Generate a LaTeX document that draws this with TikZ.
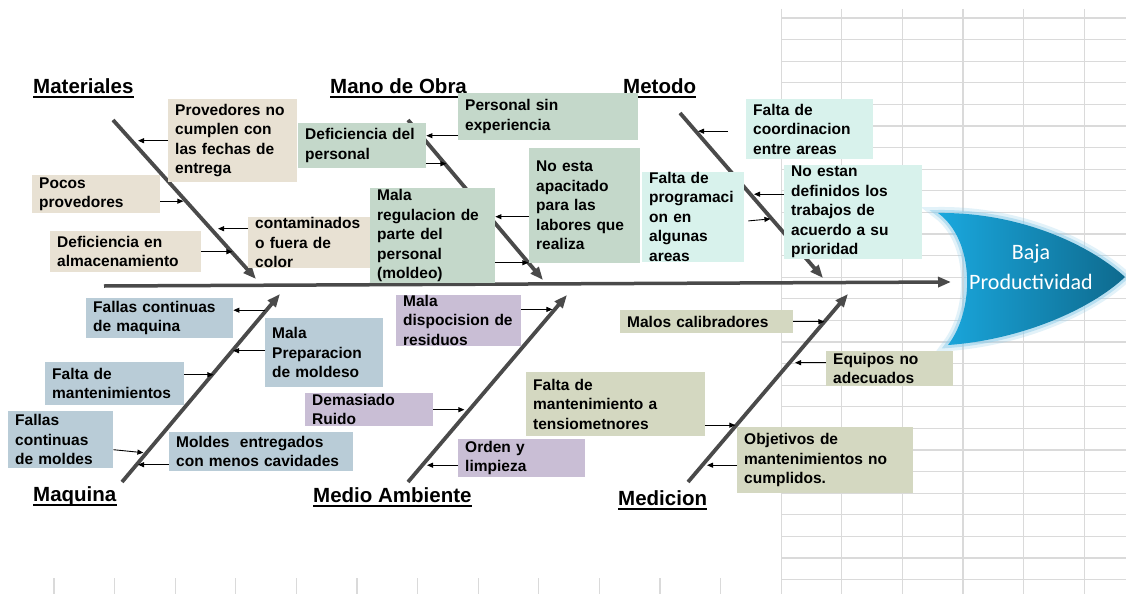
\documentclass[tikz,border=0pt]{standalone}
\usepackage{fontspec}
\setmainfont{Liberation Sans}
\newfontfamily\headfont{Carlito}
\usetikzlibrary{arrows.meta}
\definecolor{matfill}{HTML}{E8E1D3}
\definecolor{manofill}{HTML}{C4D8CA}
\definecolor{metfill}{HTML}{D8F2EC}
\definecolor{maqfill}{HTML}{B9CCD7}
\definecolor{ambfill}{HTML}{C9BED5}
\definecolor{mdcfill}{HTML}{D4D8C1}
\definecolor{bonegray}{HTML}{4A4A4A}
\definecolor{gridgray}{HTML}{DADADA}
\definecolor{headlight}{HTML}{1AA8DE}
\definecolor{headdark}{HTML}{0E6A8E}
\definecolor{headglow}{HTML}{8FCDEB}
\newcommand\causefont{\fontsize{15.5}{19.5}\selectfont\bfseries}
\newcommand\titlefont{\fontsize{20.5}{24}\selectfont\bfseries}
\tikzset{
  cause node/.style={fill=#1, anchor=north west, align=left, inner xsep=7pt, inner ysep=0pt, font=\causefont},
  title node/.style={anchor=base west, inner sep=0pt, text depth=4pt, font=\titlefont,
    append after command={(\tikzlastnode.south west) edge[-, draw=black, line width=2pt] (\tikzlastnode.south east)}},
  bone/.style={draw=bonegray, line width=3.8pt, -{Triangle[length=13pt,width=10pt]}},
  spine/.style={draw=bonegray, line width=3.5pt, -{Triangle[length=13pt,width=10pt]}},
  cause/.style={draw=black, line width=0.9pt, -{Triangle[length=6pt,width=5pt]}},
  gridline/.style={draw=gridgray, line width=1.1pt},
}
\begin{document}
\begin{tikzpicture}[x=1pt, y=-1pt]
        \useasboundingbox (0,0) rectangle (1126,594);
        \fill[white] (0,0) rectangle (1126,594);
        % Sheet grid
        \foreach \k in {12,...,17} \draw[gridline] ({54+60.6*\k},9) -- ({54+60.6*\k},594);
        \foreach \k in {0,...,11} \draw[gridline] ({54+60.6*\k},578) -- ++(0,16);
        \foreach \j in {0,...,26} \draw[gridline] (781,{18+21.6*\j}) -- (1126,{18+21.6*\j});
        % Head
        \path[preaction={draw=headglow, line width=12pt, opacity=.25},
              preaction={draw=headglow, line width=6pt, opacity=.5},
              left color=headlight, right color=headdark]
        (938,213) .. controls (975,240) and (975,310) .. (948,345)
        .. controls (1020,340) and (1090,310) .. (1125,277)
        .. controls (1090,245) and (1020,212) .. cycle;
        \node[font=\headfont\fontsize{22}{30}\selectfont, text=white, align=center] (effect) at (1031,267) {Baja\\Productividad};
        % Bones
        \coordinate (sp0) at (104,286);
        \coordinate (sp1) at (951,282);
        \coordinate (mat0) at (113,120);
        \coordinate (mat1) at (256,279);
        \coordinate (man0) at (408,120);
        \coordinate (man1) at (543,280);
        \coordinate (met0) at (680,113);
        \coordinate (met1) at (823,278);
        \coordinate (maq0) at (122,482);
        \coordinate (maq1) at (280,294);
        \coordinate (amb0) at (408,482);
        \coordinate (amb1) at (567,295);
        \coordinate (mdc0) at (688,482);
        \coordinate (mdc1) at (848,294);
        \draw[spine] (sp0) -- (sp1);
        \draw[bone] (mat0) -- (mat1);
        \draw[bone] (man0) -- (man1);
        \draw[bone] (met0) -- (met1);
        \draw[bone] (maq0) -- (maq1);
        \draw[bone] (amb0) -- (amb1);
        \draw[bone] (mdc0) -- (mdc1);
        % Titles
        \node[title node] (tmat) at (33,93) {Materiales};
        \node[title node] (tman) at (330,93) {Mano de Obra};
        \node[title node] (tmet) at (623,93) {Metodo};
        \node[title node] (tmaq) at (33,501) {Maquina};
        \node[title node] (tamb) at (313,502) {Medio Ambiente};
        \node[title node] (tmdc) at (618,505) {Medicion};
        % Causes
        \node[cause node=matfill, text width=115pt, minimum height=83pt] (prov) at (168,99) {Provedores no\\cumplen con\\las fechas de\\entrega};
        \node[cause node=matfill, text width=114pt, minimum height=38pt] (pocos) at (32,175) {Pocos\\provedores};
        \node[cause node=matfill, text width=137pt, minimum height=41pt] (defalm) at (50,231) {Deficiencia en\\almacenamiento};
        \node[cause node=matfill, text width=115pt, minimum height=51pt] (contam) at (248,217) {contaminados\\o fuera de\\color};
        \node[cause node=manofill, text width=114pt, minimum height=45pt] (defper) at (298,123) {Deficiencia del\\personal};
        \node[cause node=manofill, text width=166pt, minimum height=47pt] (psin) at (458,93) {Personal sin\\experiencia};
        \node[cause node=manofill, text width=111pt, minimum height=95pt] (malreg) at (370,188) {Mala\\regulacion de\\parte del\\personal\\(moldeo)};
        \node[cause node=manofill, text width=97pt, minimum height=115pt] (noesta) at (529,148) {No esta\\apacitado\\para las\\labores que\\realiza};
        \node[cause node=metfill, text width=113pt, minimum height=60pt] (fcoord) at (746,99) {Falta de\\coordinacion\\entre areas};
        \node[cause node=metfill, text width=88pt, minimum height=88pt] (fprog) at (642,172) {Falta de\\programaci\\on en\\algunas\\areas};
        \node[cause node=metfill, text width=124pt, minimum height=94pt] (noestan) at (784,165) {No estan\\definidos los\\trabajos de\\acuerdo a su\\prioridad};
        \node[cause node=maqfill, text width=133pt, minimum height=40pt] (fmaq) at (86,298) {Fallas continuas\\de maquina};
        \node[cause node=maqfill, text width=104pt, minimum height=69pt] (mprep) at (265,318) {Mala\\Preparacion\\de moldeso};
        \node[cause node=maqfill, text width=125pt, minimum height=43pt] (fmant) at (45,362) {Falta de\\mantenimientos};
        \node[cause node=maqfill, text width=91pt, minimum height=57pt] (fmold) at (8,411) {Fallas\\continuas\\de moldes};
        \node[cause node=maqfill, text width=170pt, minimum height=39pt] (moldes) at (169,432) {Moldes~ entregados\\con menos cavidades};
        \node[cause node=ambfill, text width=111pt, minimum height=50pt] (mdisp) at (396,295) {Mala\\dispocision de\\residuos};
        \node[cause node=ambfill, text width=114pt, minimum height=33pt] (ruido) at (305,393) {Demasiado\\Ruido};
        \node[cause node=ambfill, text width=113pt, minimum height=38pt] (orden) at (458,439) {Orden y\\limpieza};
        \node[cause node=mdcfill, text width=159pt, minimum height=23pt] (mcal) at (620,310) {Malos calibradores};
        \node[cause node=mdcfill, text width=113pt, minimum height=35pt] (equipos) at (826,351) {Equipos no\\adecuados};
        \node[cause node=mdcfill, text width=165pt, minimum height=64pt] (fmt) at (526,372) {Falta de\\mantenimiento a\\tensiometnores};
        \node[cause node=mdcfill, text width=162pt, minimum height=66pt] (objet) at (737,427) {Objetivos de\\mantenimientos no\\cumplidos.};
        % Arrows
        \draw[cause] (prov.west) -- ++(-30,0);
        \draw[cause] ([yshift=-7pt]pocos.east) -- ++(23,0);
        \draw[cause] (defalm.east) -- ++(31,0);
        \draw[cause] ([yshift=14pt]contam.west) -- ++(-30,0);
        \draw[cause] ([yshift=-18pt]defper.east) -- ++(20,0);
        \draw[cause] ([yshift=-19pt]psin.west) -- ([yshift=-19pt]psin.west -| defper.east);
        \draw[cause] ([yshift=-27pt]malreg.east) -- ++(33,0);
        \draw[cause] ([yshift=-11pt]noesta.west) -- ([yshift=-11pt]noesta.west -| malreg.east);
        \draw[cause] ([xshift=-18pt,yshift=-2pt]fcoord.west) -- ++(-30,0);
        \draw[cause] ([xshift=4pt,yshift=-4pt]fprog.east) -- ++(22,-2);
        \draw[cause] ([yshift=18pt]noestan.west) -- ++(-30,0);
        \draw[cause] ([xshift=32pt,yshift=8pt]fmaq.east) -- ([yshift=8pt]fmaq.east);
        \draw[cause] ([yshift=2pt]mprep.west) -- ++(-32,0);
        \draw[cause] ([yshift=9pt]fmant.east) -- ++(29,0);
        \draw[cause] ([yshift=-10pt]fmold.east) -- ++(30,3);
        \draw[cause] ([yshift=-13pt]moldes.west) -- ++(-31,0);
        \draw[cause] ([yshift=11pt]mdisp.east) -- ++(31,0);
        \draw[cause] (ruido.east) -- ++(31,0);
        \draw[cause] ([yshift=-7pt]orden.west) -- ++(-31,0);
        \draw[cause] (mcal.east) -- ++(31,0);
        \draw[cause] ([yshift=6pt]equipos.west) -- ++(-31,0);
        \draw[cause] ([yshift=-21pt]fmt.east) -- ++(30,0);
        \draw[cause] ([yshift=-5pt]objet.west) -- ++(-30,0);
\end{tikzpicture}
\end{document}
